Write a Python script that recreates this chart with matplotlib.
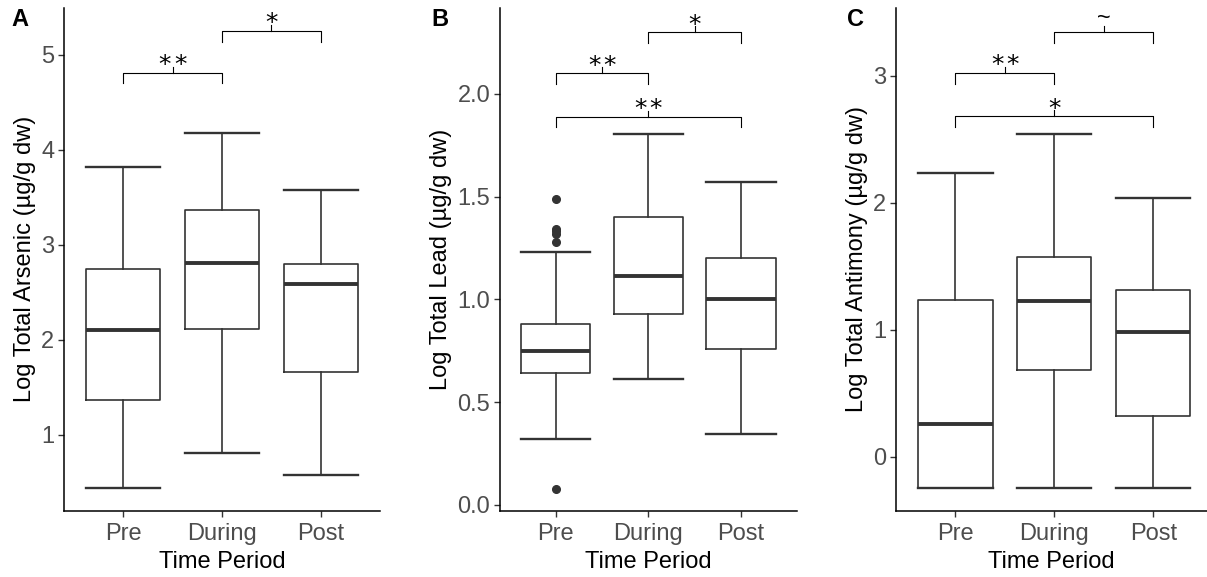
import matplotlib
matplotlib.use('Agg')
import matplotlib.pyplot as plt

plt.rcParams['font.family'] = ['Liberation Sans', 'DejaVu Sans']

periods = ['Pre', 'During', 'Post']

# box stats per panel: (whislo, q1, med, q3, whishi)
arsenic_stats = [(0.44, 1.36, 2.10, 2.74, 3.82),
                 (0.81, 2.11, 2.81, 3.36, 4.17),
                 (0.58, 1.66, 2.59, 2.80, 3.58)]
arsenic_fliers = [[], [], []]

lead_stats = [(0.32, 0.64, 0.75, 0.88, 1.23),
              (0.615, 0.93, 1.115, 1.40, 1.805),
              (0.345, 0.76, 1.00, 1.20, 1.57)]
lead_fliers = [[0.08, 1.28, 1.32, 1.335, 1.345, 1.49], [], []]

antimony_stats = [(-0.245, -0.245, 0.26, 1.235, 2.23),
                  (-0.245, 0.68, 1.23, 1.57, 2.54),
                  (-0.245, 0.32, 0.98, 1.31, 2.04)]
antimony_fliers = [[], [], []]

# significance brackets: (group i, group j, bracket y, leg y, label)
arsenic_sig = [(1, 2, 4.81, 4.70, '**'), (2, 3, 5.25, 5.13, '*')]
lead_sig = [(1, 2, 2.10, 2.05, '**'), (2, 3, 2.30, 2.25, '*'), (1, 3, 1.89, 1.84, '**')]
antimony_sig = [(1, 2, 3.02, 2.935, '**'), (2, 3, 3.345, 3.26, '~'), (1, 3, 2.68, 2.595, '*')]

panels = [
    dict(tag='A', ylabel='Log Total Arsenic (µg/g dw)', stats=arsenic_stats, fliers=arsenic_fliers,
         sig=arsenic_sig, ylim=(0.2, 5.49), yticks=[1, 2, 3, 4, 5], fmt='{:.0f}',
         rect=[64, 380], xmax=3.6, tag_x=20),
    dict(tag='B', ylabel='Log Total Lead (µg/g dw)', stats=lead_stats, fliers=lead_fliers,
         sig=lead_sig, ylim=(-0.028, 2.418), yticks=[0.0, 0.5, 1.0, 1.5, 2.0], fmt='{:.1f}',
         rect=[500, 796.6], xmax=3.6, tag_x=440),
    dict(tag='C', ylabel='Log Total Antimony (µg/g dw)', stats=antimony_stats, fliers=antimony_fliers,
         sig=antimony_sig, ylim=(-0.425, 3.533), yticks=[0, 1, 2, 3], fmt='{:.0f}',
         rect=[896, 1207], xmax=3.542, tag_x=855),
]

W, H = 1207, 577
AX_BOT, AX_TOP = 510.7, 8
fig = plt.figure(figsize=(W / 100, H / 100), dpi=100, facecolor='white')

box_col = '#333333'
tick_col = '#4D4D4D'
FS = 17
for p in panels:
    x0, x1 = p['rect']
    ax = fig.add_axes([x0 / W, (H - AX_BOT) / H, (x1 - x0) / W, (AX_BOT - AX_TOP) / H])
    bstats = []
    for (lo, q1, med, q3, hi), fl in zip(p['stats'], p['fliers']):
        bstats.append(dict(whislo=lo, q1=q1, med=med, q3=q3, whishi=hi, fliers=fl))
    ax.bxp(bstats, positions=[1, 2, 3], widths=0.75, showfliers=True,
           boxprops=dict(color=box_col, linewidth=1.2),
           whiskerprops=dict(color=box_col, linewidth=1.2),
           capprops=dict(color=box_col, linewidth=1.7),
           medianprops=dict(color=box_col, linewidth=2.8, solid_capstyle='butt'),
           flierprops=dict(marker='o', markerfacecolor=box_col, markeredgecolor=box_col,
                           markersize=5.5, linestyle='none'),
           capwidths=0.75)

    # ~6 px centre tick, in data units
    tick_h = 6 / (AX_BOT - AX_TOP) * (p['ylim'][1] - p['ylim'][0])
    for i, j, yb, yl, lab in p['sig']:
        ax.plot([i, i, j, j], [yl, yb, yb, yl], color='black', linewidth=0.8)
        mid = (i + j) / 2
        ax.plot([mid, mid], [yb, yb + tick_h], color='black', linewidth=0.8)
        if lab == '~':
            ax.annotate(lab, xy=(mid, yb), xytext=(0, 5), textcoords='offset points',
                        ha='center', va='baseline', fontsize=17)
        else:
            n = len(lab)
            for k in range(n):
                dx = (k - (n - 1) / 2) * 11
                ax.annotate('*', xy=(mid, yb), xytext=(dx, 0.5), textcoords='offset points',
                            ha='center', va='baseline', fontsize=18, family='DejaVu Sans')

    ax.set_xlim(0.4, p['xmax'])
    ax.set_ylim(*p['ylim'])
    ax.set_xticks([1, 2, 3])
    ax.set_xticklabels(periods)
    ax.set_yticks(p['yticks'])
    ax.set_yticklabels([p['fmt'].format(v) for v in p['yticks']])
    ax.tick_params(axis='both', colors=box_col, labelcolor=tick_col, labelsize=FS,
                   length=4, width=1.0, pad=3)
    ax.tick_params(axis='x', pad=5)
    for s in ['top', 'right']:
        ax.spines[s].set_visible(False)
    for s in ['left', 'bottom']:
        ax.spines[s].set_color('black')
        ax.spines[s].set_linewidth(1.1)
    ax.set_xlabel('Time Period', fontsize=FS, color='black', labelpad=4)
    ax.set_ylabel(p['ylabel'], fontsize=FS, color='black', labelpad=4)
    fig.text(p['tag_x'] / W, 1 - 20 / H, p['tag'], fontsize=17, fontweight='bold',
             ha='center', va='center')

fig.savefig('out.png', dpi=100, facecolor='white')
